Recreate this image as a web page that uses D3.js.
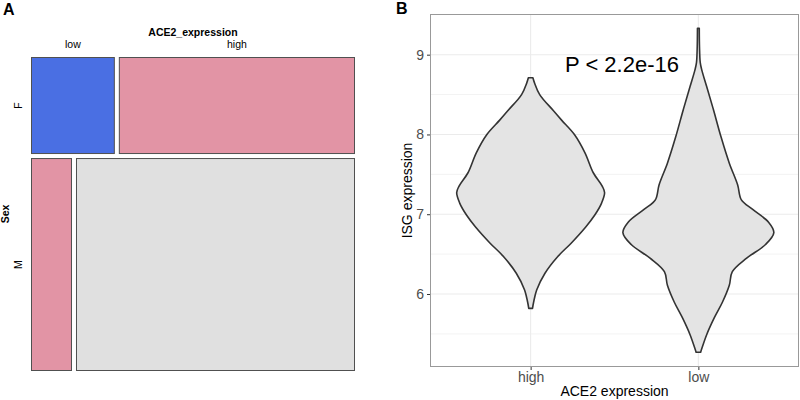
<!DOCTYPE html>
<html>
<head>
<meta charset="utf-8">
<script src="https://cdn.jsdelivr.net/npm/d3@7"></script>
<style>
  body { margin: 0; background: #fff; }
  svg { display: block; font-family: "Liberation Sans", Arial, sans-serif; }
</style>
</head>
<body>
<svg id="chart"></svg>
<script>
"use strict";

const WIDTH = 800;
const HEIGHT = 400;

// panel A : mosaic of Sex x ACE2_expression (counts estimated from the areas)
const sexLevels = ['F', 'M'];
const aceLevels = ['low', 'high'];
const countsF = [82, 231];
const countsM = [88, 599];

// panel B : violin outlines (value, relative density)
const violinGroups = ['high', 'low'];
const highVals = [8.71, 8.65, 8.50, 8.30, 8.18, 8.00, 7.77, 7.52, 7.35, 7.27, 7.14, 6.99, 6.84, 6.64, 6.47, 6.26, 6.05, 5.90, 5.82];
const highDens = [0.03, 0.05, 0.12, 0.30, 0.41, 0.58, 0.72, 0.83, 0.95, 0.98, 0.94, 0.85, 0.73, 0.54, 0.36, 0.19, 0.08, 0.04, 0.025];
const lowVals = [9.33, 9.10, 8.90, 8.81, 8.60, 8.31, 7.97, 7.64, 7.37, 7.18, 7.06, 6.90, 6.77, 6.62, 6.45, 6.28, 6.11, 5.90, 5.70, 5.49, 5.30, 5.27];
const lowDens = [0.012, 0.015, 0.025, 0.045, 0.11, 0.20, 0.30, 0.41, 0.52, 0.57, 0.72, 0.93, 1.00, 0.89, 0.64, 0.45, 0.41, 0.32, 0.21, 0.11, 0.04, 0.03];
const yTicks = [6, 7, 8, 9];
const yMinor = [5.5, 6.5, 7.5, 8.5];
const pText = 'P < 2.2e-16';

const svg = d3.select('#chart')
    .attr('width', WIDTH)
    .attr('height', HEIGHT);

// ---------- panel A ----------
const gA = svg.append('g');

gA.append('text')
    .attr('x', 3).attr('y', 15)
    .attr('font-size', 16).attr('font-weight', 'bold')
    .text('A');

const mosX0 = 31, mosX1 = 355, mosY0 = 57, mosY1 = 371, gap = 4;
const rows = [countsF, countsM];
const rowTotals = rows.map(r => d3.sum(r));
const grand = d3.sum(rowTotals);

const rowH = d3.scaleLinear().domain([0, grand]).range([0, mosY1 - mosY0 - gap]);
const cellColors = [['#4a6fe3', '#e294a5'], ['#e294a5', '#e0e0e0']];

let yCur = mosY0;
const cells = [];
rows.forEach((r, i) => {
  const h = rowH(rowTotals[i]);
  const colW = d3.scaleLinear().domain([0, rowTotals[i]]).range([0, mosX1 - mosX0 - gap]);
  let xCur = mosX0;
  r.forEach((c, j) => {
    const w = colW(c);
    cells.push({sex: sexLevels[i], ace: aceLevels[j], x: xCur, y: yCur, w: w, h: h, fill: cellColors[i][j]});
    xCur += w + gap;
  });
  yCur += h + gap;
});

gA.selectAll('rect')
    .data(cells)
    .join('rect')
    .attr('x', d => d.x + 0.5)
    .attr('y', d => d.y + 0.5)
    .attr('width', d => d.w - 1)
    .attr('height', d => d.h - 1)
    .attr('fill', d => d.fill)
    .attr('stroke', '#505050')
    .attr('stroke-width', 1);

gA.append('text')
    .attr('x', (mosX0 + mosX1) / 2).attr('y', 36)
    .attr('text-anchor', 'middle')
    .attr('font-size', 10.5).attr('font-weight', 'bold')
    .text('ACE2_expression');

gA.selectAll('text.col')
    .data(cells.filter(d => d.sex === 'F'))
    .join('text')
    .attr('class', 'col')
    .attr('x', d => d.x + d.w / 2).attr('y', 48)
    .attr('text-anchor', 'middle')
    .attr('font-size', 10.5)
    .text(d => d.ace);

gA.selectAll('text.row')
    .data(cells.filter(d => d.ace === 'low'))
    .join('text')
    .attr('class', 'row')
    .attr('transform', d => `translate(22,${d.y + d.h / 2}) rotate(-90)`)
    .attr('text-anchor', 'middle')
    .attr('font-size', 10.5)
    .text(d => d.sex);

gA.append('text')
    .attr('transform', `translate(9,${(mosY0 + mosY1) / 2}) rotate(-90)`)
    .attr('text-anchor', 'middle')
    .attr('font-size', 10.5).attr('font-weight', 'bold')
    .text('Sex');

// ---------- panel B ----------
const gB = svg.append('g');

gB.append('text')
    .attr('x', 396).attr('y', 14)
    .attr('font-size', 16).attr('font-weight', 'bold')
    .text('B');

const pX0 = 430, pX1 = 799, pY0 = 14, pY1 = 367;

const x = d3.scalePoint().domain(violinGroups).range([pX0, pX1]).padding(0.6);
const y = d3.scaleLinear().domain([5.085, 9.51]).range([pY1, pY0]);
const wScale = d3.scaleLinear().domain([0, 1]).range([0, 0.45 * x.step()]);

// grid
gB.selectAll('line.minor')
    .data(yMinor)
    .join('line')
    .attr('class', 'minor')
    .attr('x1', pX0).attr('x2', pX1)
    .attr('y1', d => y(d)).attr('y2', d => y(d))
    .attr('stroke', '#f3f3f3').attr('stroke-width', 1);

gB.selectAll('line.major')
    .data(yTicks)
    .join('line')
    .attr('class', 'major')
    .attr('x1', pX0).attr('x2', pX1)
    .attr('y1', d => y(d)).attr('y2', d => y(d))
    .attr('stroke', '#ebebeb').attr('stroke-width', 1.1);

gB.selectAll('line.vgrid')
    .data(violinGroups)
    .join('line')
    .attr('class', 'vgrid')
    .attr('x1', d => x(d)).attr('x2', d => x(d))
    .attr('y1', pY0).attr('y2', pY1)
    .attr('stroke', '#ebebeb').attr('stroke-width', 1.1);

// violins
const violins = [
  {group: 'high', pts: highVals.map((v, i) => ({v: v, d: highDens[i]}))},
  {group: 'low', pts: lowVals.map((v, i) => ({v: v, d: lowDens[i]}))}
];

const area = d3.area()
    .curve(d3.curveCatmullRom.alpha(0.5))
    .y(p => y(p.v));

gB.selectAll('path.violin')
    .data(violins)
    .join('path')
    .attr('class', 'violin')
    .attr('d', d => area
        .x0(p => x(d.group) - wScale(p.d))
        .x1(p => x(d.group) + wScale(p.d))(d.pts))
    .attr('fill', '#e4e4e4')
    .attr('stroke', '#333333')
    .attr('stroke-width', 1.6)
    .attr('stroke-linejoin', 'round');

// border
gB.append('rect')
    .attr('x', pX0 + 0.5).attr('y', pY0 + 0.5)
    .attr('width', pX1 - pX0 - 1).attr('height', pY1 - pY0 - 1)
    .attr('fill', 'none')
    .attr('stroke', '#999999').attr('stroke-width', 1);

// axes
const yAxis = gB.append('g')
    .attr('transform', `translate(${pX0},0)`)
    .call(d3.axisLeft(y).tickValues(yTicks).tickFormat(d3.format('d')).tickSize(3).tickPadding(3));
const xAxis = gB.append('g')
    .attr('transform', `translate(0,${pY1})`)
    .call(d3.axisBottom(x).tickSize(3).tickPadding(2));

[yAxis, xAxis].forEach(ax => {
  ax.select('.domain').remove();
  ax.selectAll('line').attr('stroke', '#333333');
  ax.selectAll('text')
      .attr('fill', '#4d4d4d')
      .attr('font-size', 14)
      .attr('font-family', '"Liberation Sans", Arial, sans-serif');
});

gB.append('text')
    .attr('x', (pX0 + pX1) / 2).attr('y', 396)
    .attr('text-anchor', 'middle')
    .attr('font-size', 14)
    .text('ACE2 expression');

gB.append('text')
    .attr('transform', `translate(412,${(pY0 + pY1) / 2}) rotate(-90)`)
    .attr('text-anchor', 'middle')
    .attr('font-size', 14)
    .text('ISG expression');

gB.append('text')
    .attr('x', 565).attr('y', 72)
    .attr('font-size', 22)
    .text(pText);
</script>
</body>
</html>
